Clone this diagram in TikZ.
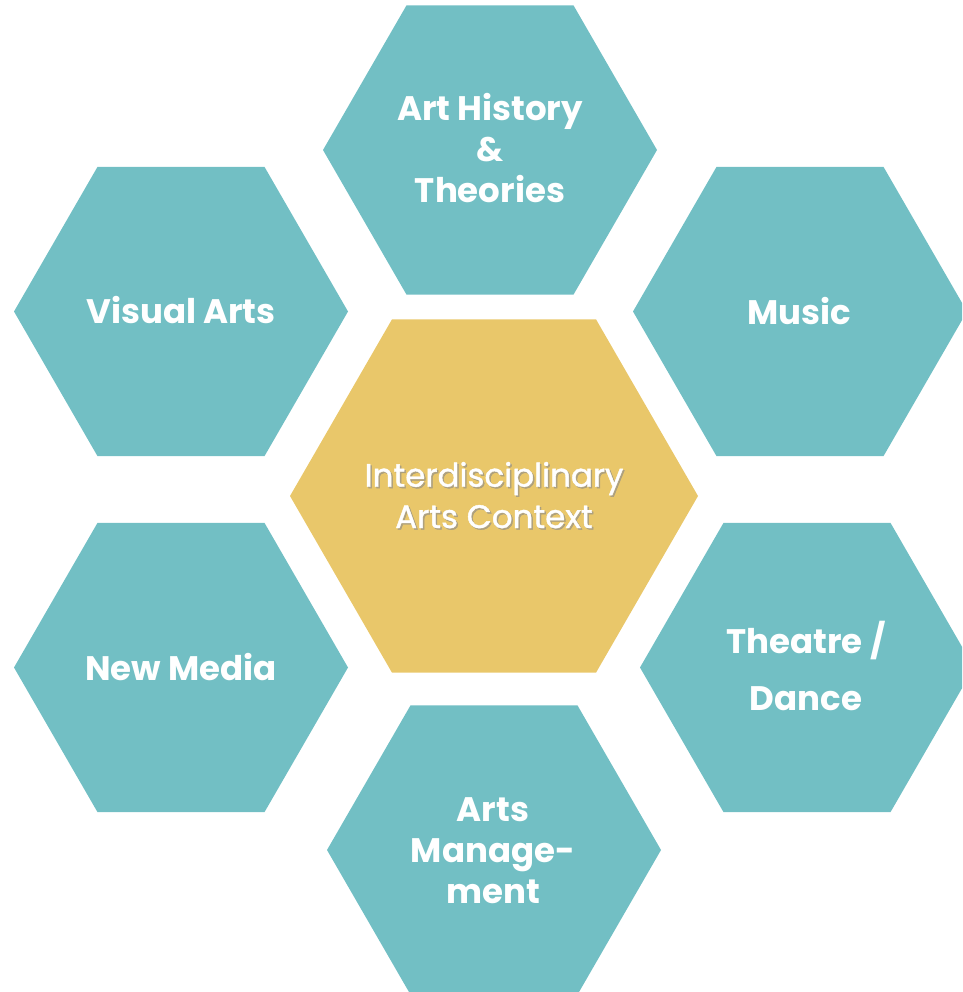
\documentclass[tikz,border=0pt]{standalone}
\usepackage{fontspec}
\setmainfont{Poppins}
\newfontfamily\midfont[FakeBold=1.2]{Poppins}
\usetikzlibrary{shapes.geometric}
\definecolor{hexteal}{RGB}{114,191,196}
\definecolor{hexgold}{RGB}{233,199,106}
\begin{document}
\begin{tikzpicture}[x=1pt,y=-1pt,
  hexcell/.style={shape=regular polygon, regular polygon sides=6, minimum size=334pt, inner sep=0pt, outer sep=0pt, fill=hexteal, draw=none},
  hexmid/.style={hexcell, minimum size=408pt, fill=hexgold},
  lbl/.style={text=white, font=\bfseries\fontsize{34}{41}\selectfont, align=center, anchor=base, inner sep=0pt},
  midlbl/.style={lbl, font=\midfont\fontsize{32.5}{41.3}\selectfont}]
\useasboundingbox (0,0) rectangle (962,992);
\clip (0,0) rectangle (962,992);
\node[hexcell] (art) at (490,150) {};
\node[hexcell] (vis) at (181,311.5) {};
\node[hexcell] (mus) at (800,311.5) {};
\node[hexmid]  (ctr) at (494,496) {};
\node[hexcell] (new) at (181,667.5) {};
\node[hexcell] (thd) at (807,667.5) {};
\node[hexcell] (mgt) at (494,850) {};
\node[lbl] (tart) at (490,202.7) {Art History\\\&\\Theories};
\node[lbl] (tvis) at (181,323.3) {Visual Arts};
\node[lbl] (tmus) at (799,324) {Music};
\node[midlbl, text=black!45, opacity=0.6] (tctrs) at (495.5,529.5) {Interdisciplinary\\Arts Context};
\node[midlbl] (tctr) at (494,528) {Interdisciplinary\\Arts Context};
\node[lbl] (tnew) at (181,680) {New Media};
\node[lbl, font=\bfseries\fontsize{34}{57}\selectfont] (tthd) at (806,710) {Theatre /\\Dance};
\node[lbl] (tmgt) at (493,903.3) {Arts\\Manage-\\ment};
\end{tikzpicture}
\end{document}
